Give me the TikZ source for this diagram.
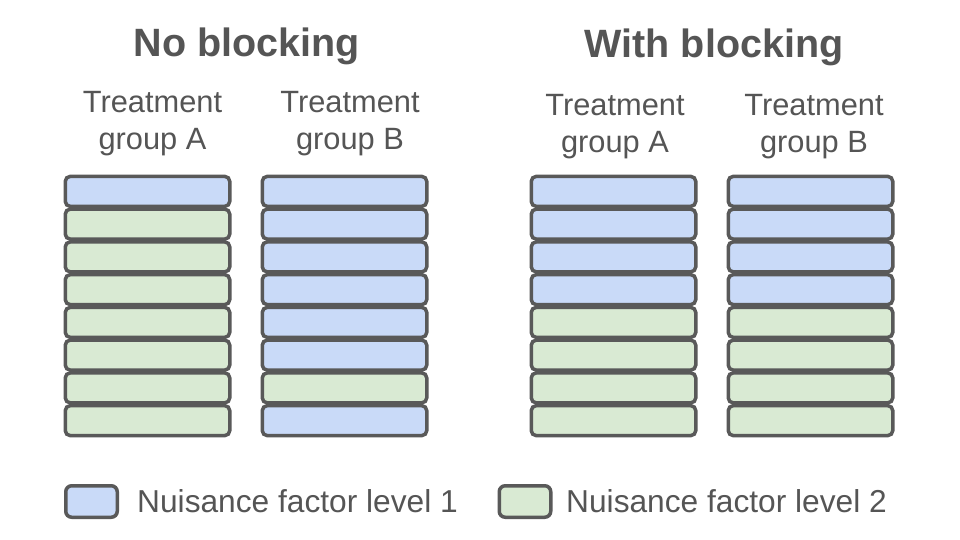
\documentclass[tikz,border=0pt]{standalone}
\usepackage{fontspec}
\setmainfont{Liberation Sans}
\definecolor{lineC}{HTML}{595959}
\definecolor{textC}{HTML}{555555}
\definecolor{blueF}{HTML}{C9DAF8}
\definecolor{greenF}{HTML}{D9EAD3}
\begin{document}
\begin{tikzpicture}[x=1pt,y=-1pt,
  cell/.style={draw=lineC, line width=3.5pt, rounded corners=5pt, minimum width=164.5pt, minimum height=30pt, inner sep=0pt},
  lvlone/.style={cell, fill=blueF},
  lvltwo/.style={cell, fill=greenF},
  legbox/.style={draw=lineC, line width=3.5pt, rounded corners=6pt, minimum width=51.5pt, minimum height=31.5pt, inner sep=0pt},
  titletext/.style={font=\bfseries\fontsize{39.5}{44}\selectfont, text=textC, inner sep=0pt, anchor=base},
  grouptext/.style={font=\fontsize{30.8}{37}\selectfont, text=textC, inner sep=0pt, anchor=base},
  legtext/.style={font=\fontsize{31.7}{37}\selectfont, text=textC, inner sep=0pt, anchor=base west}]
\useasboundingbox[fill=white] (0,0) rectangle (960,540);

% titles
\node[titletext] (t1) at (246.5,57) {No blocking};
\node[titletext] (t2) at (714,58) {With blocking};

% group labels
\node[grouptext] (la1) at (152.5,113) {Treatment};
\node[grouptext] (la2) at (152.5,150) {group A};
\node[grouptext] (lb1) at (350,113) {Treatment};
\node[grouptext] (lb2) at (350,150) {group B};
\node[grouptext] (lc1) at (615,116) {Treatment};
\node[grouptext] (lc2) at (615,153) {group A};
\node[grouptext] (ld1) at (814,116) {Treatment};
\node[grouptext] (ld2) at (814,153) {group B};

% columns of cells
\foreach \i/\sa/\sb/\sc/\sd in {1/lvlone/lvlone/lvlone/lvlone,
                                2/lvltwo/lvlone/lvlone/lvlone,
                                3/lvltwo/lvlone/lvlone/lvlone,
                                4/lvltwo/lvlone/lvlone/lvlone,
                                5/lvltwo/lvlone/lvltwo/lvltwo,
                                6/lvltwo/lvlone/lvltwo/lvltwo,
                                7/lvltwo/lvltwo/lvltwo/lvltwo,
                                8/lvltwo/lvlone/lvltwo/lvltwo}{
  \pgfmathsetmacro{\yy}{175+32.75*(\i-0.5)}
  \node[\sa] (a\i) at (147.5,\yy) {};
  \node[\sb] (b\i) at (344.5,\yy) {};
  \node[\sc] (c\i) at (613.5,\yy) {};
  \node[\sd] (d\i) at (810.5,\yy) {};
}

% legend
\node[legbox, fill=blueF] (k1) at (91.5,501.5) {};
\node[legtext] (k1t) at (137,512) {Nuisance factor level 1};
\node[legbox, fill=greenF] (k2) at (525,501.5) {};
\node[legtext] (k2t) at (566,512) {Nuisance factor level 2};
\end{tikzpicture}
\end{document}
